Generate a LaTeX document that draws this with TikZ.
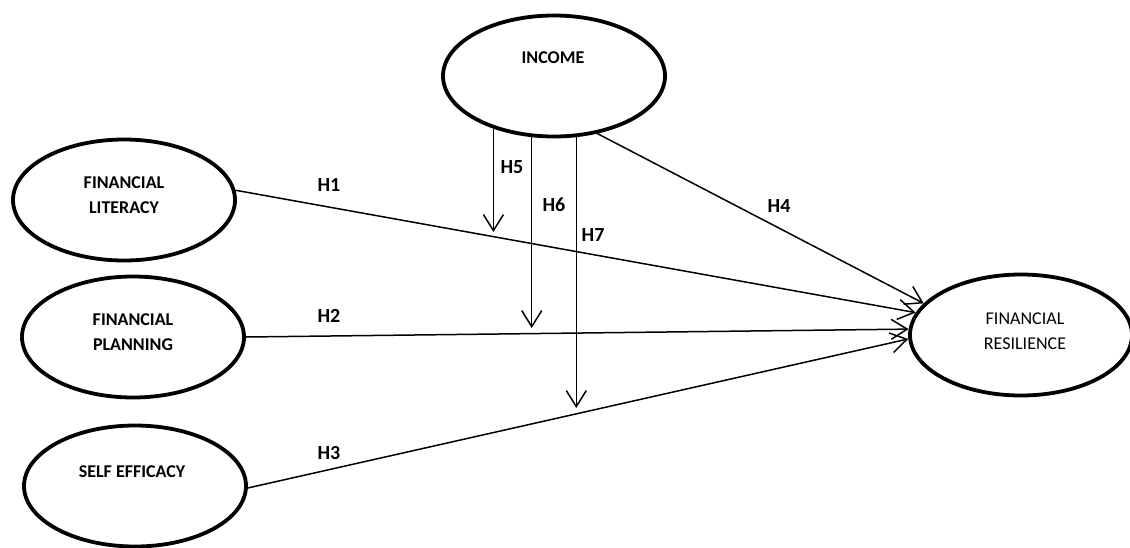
\documentclass[tikz,border=0pt]{standalone}
\usepackage{fontspec}
\setmainfont{Carlito}
\usetikzlibrary{
    shapes.geometric,
    arrows.meta,
}

\tikzset{
    construct/.style={ellipse, draw, line width=3.8pt,
        minimum width=222pt, minimum height=121pt, inner sep=0pt},
    cname/.style={font=\fontsize{18}{24.5}\selectfont\bfseries,
        align=center, inner sep=0pt},
    hyp/.style={line width=1.5pt,
        -{Straight Barb[length=16pt, width=20pt]}},
    hlabel/.style={font=\fontsize{20}{24}\selectfont\bfseries, inner sep=0pt},
}

\begin{document}
\begin{tikzpicture}[x=1pt, y=-1pt]
\useasboundingbox (0,0) rectangle (1130,547);

% =============================================================================
% Constructs
% =============================================================================
% Moderator
\node[construct] (inc) at (554,76) {};
\node[cname] (inc-t) at (553,58) {INCOME};

% Independent variables
\node[construct] (fl) at (124,200) {};
\node[cname] (fl-t) at (124,195) {FINANCIAL\\LITERACY};

\node[construct] (fp) at (133,337) {};
\node[cname] (fp-t) at (133,332) {FINANCIAL\\PLANNING};

\node[construct] (se) at (135,486) {};
\node[cname] (se-t) at (132,472) {SELF EFFICACY};

% Dependent variable
\node[construct] (fr) at (1021,335) {};
\node[cname, font=\fontsize{18}{24.5}\selectfont] (fr-t) at (1025,331)
    {FINANCIAL\\RESILIENCE};

% =============================================================================
% Direct effects
% =============================================================================
\draw[hyp] (fl.5) -- (fr.168);
\node[hlabel] (h1) at (329,185) {H1};

\draw[hyp] (fp.east) -- (fr.177);
\node[hlabel] (h2) at (329,316) {H2};

\draw[hyp] (se.-1) -- (fr.182);
\node[hlabel] (h3) at (329,453) {H3};

\draw[hyp] (inc.-53) -- (fr.162);
\node[hlabel] (h4) at (779,206) {H4};

% =============================================================================
% Moderating effects
% =============================================================================
\coordinate (h5tip) at (495,232);
\coordinate (h6tip) at (533,328);
\coordinate (h7tip) at (576,408);

\draw[hyp] (inc.221) -- (inc.221 |- h5tip);
\node[hlabel] (h5) at (512,167) {H5};

\draw[hyp] (inc.250.5) -- (inc.250.5 |- h6tip);
\node[hlabel] (h6) at (554,205) {H6};

\draw[hyp] (inc.290.4) -- (inc.290.4 |- h7tip);
\node[hlabel] (h7) at (593,235) {H7};

\end{tikzpicture}
\end{document}
